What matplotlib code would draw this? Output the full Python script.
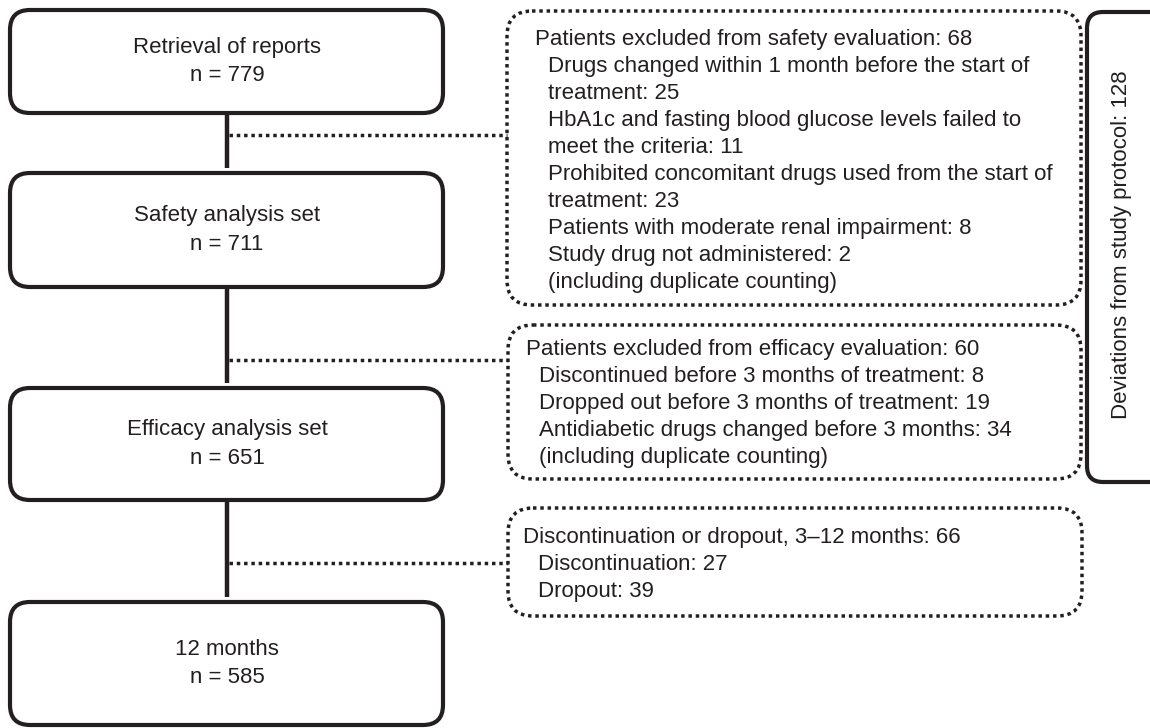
import matplotlib
matplotlib.use("Agg")
import matplotlib.pyplot as plt
from matplotlib.patches import FancyBboxPatch

# Flowchart data (text and counts)
main_labels = ["Retrieval of reports", "Safety analysis set",
               "Efficacy analysis set", "12 months"]
main_n = [779, 711, 651, 585]

safety_head = ("Patients excluded from safety evaluation", 68)
safety_items = ["Drugs changed within 1 month before the start of",
                "treatment: 25",
                "HbA1c and fasting blood glucose levels failed to",
                "meet the criteria: 11",
                "Prohibited concomitant drugs used from the start of",
                "treatment: 23",
                "Patients with moderate renal impairment: 8",
                "Study drug not administered: 2",
                "(including duplicate counting)"]

efficacy_head = ("Patients excluded from efficacy evaluation", 60)
efficacy_items = ["Discontinued before 3 months of treatment: 8",
                  "Dropped out before 3 months of treatment: 19",
                  "Antidiabetic drugs changed before 3 months: 34",
                  "(including duplicate counting)"]

dropout_head = ("Discontinuation or dropout, 3\u201312 months", 66)
dropout_items = ["Discontinuation: 27", "Dropout: 39"]

deviations_total = 128

# Layout (pixel units, y downwards)
W, H = 1150, 728
ink = "#231f20"
fs = 16

main_boxes = [(10, 10, 443, 113), (10, 173, 443, 287),
              (10, 388, 443, 500), (10, 602, 443, 725)]
side_boxes = [(507, 11, 1081, 305), (508, 325, 1081, 479), (508, 508, 1082, 616)]
connect_y = [135, 360, 563]
spine_x = 227

plt.rcParams['font.family'] = ['Liberation Sans', 'DejaVu Sans']

fig = plt.figure(figsize=(W / 100, H / 100), dpi=100)
ax = fig.add_axes([0, 0, 1, 1])
ax.set_xlim(0, W)
ax.set_ylim(H, 0)
ax.axis('off')

dot_lw = 2.5
dot_ls = (0, (1, 1.1))


def rbox(x0, y0, x1, y1, r, dotted=False):
    if dotted:
        p = FancyBboxPatch((x0, y0), x1 - x0, y1 - y0,
                           boxstyle=f"round,pad=0,rounding_size={r}",
                           fc='none', ec=ink, lw=dot_lw, ls=dot_ls)
        p.set_capstyle('butt')
    else:
        p = FancyBboxPatch((x0, y0), x1 - x0, y1 - y0,
                           boxstyle=f"round,pad=0,rounding_size={r}",
                           fc='white', ec=ink, lw=3.0)
    ax.add_patch(p)


# spine segments between main boxes
for (a, b) in zip(main_boxes[:-1], main_boxes[1:]):
    ax.plot([spine_x, spine_x], [a[3], b[1] - 5], color=ink, lw=3.2,
            solid_capstyle='butt')

# dotted connectors
for y, sb in zip(connect_y, side_boxes):
    ax.plot([spine_x + 2, sb[0]], [y, y], color=ink, lw=dot_lw,
            ls=dot_ls, dash_capstyle='butt')

# main boxes
for box, lab, n in zip(main_boxes, main_labels, main_n):
    rbox(*box, r=20)
    cy = (box[1] + box[3]) / 2
    ax.text(spine_x, cy - 14, lab, ha='center', va='center', fontsize=fs, color=ink)
    ax.text(spine_x, cy + 14, f"n = {n}", ha='center', va='center', fontsize=fs, color=ink)

# side boxes
groups = [(safety_head, safety_items, 39, 535, 548),
          (efficacy_head, efficacy_items, 349, 526, 539),
          (dropout_head, dropout_items, 537, 523, 538)]
step = 27.1
for sb, (head, items, y0, xh, xi) in zip(side_boxes, groups):
    rbox(*sb, r=25, dotted=True)
    ax.text(xh, y0, f"{head[0]}: {head[1]}", ha='left', va='center',
            fontsize=fs, color=ink)
    for k, line in enumerate(items):
        ax.text(xi, y0 + step * (k + 1), line, ha='left', va='center',
                fontsize=fs, color=ink)

# deviations box on the right
rbox(1087, 12, 1170, 482, r=16)
ax.text(1122, 245, f"Deviations from study protocol: {deviations_total}",
        rotation=90, ha='center', va='center', fontsize=fs, color=ink)

fig.savefig("out.png", dpi=100)
